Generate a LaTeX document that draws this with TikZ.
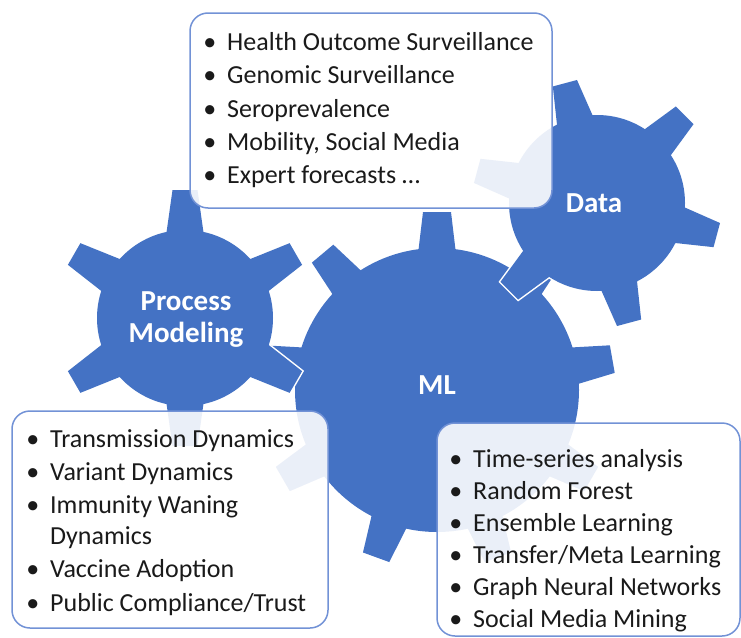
\documentclass[tikz,border=0pt]{standalone}
\usepackage{fontspec}
\setmainfont{Carlito}
\definecolor{gearblue}{RGB}{68,114,196}
\definecolor{boxline}{RGB}{114,146,214}
\definecolor{txtcol}{RGB}{26,26,26}
\newcommand\geardraw[9]{%
  \begin{scope}[shift={(#2,#3)}]
    \path[#1] (0,0) circle[radius=#4];
    \foreach \k in {1,...,#6} {
      \pgfmathsetmacro\ang{#7+(\k-1)*360/#6}
      \path[#1, rotate=\ang] (#4-6,-#9) -- (#5,-#8) -- (#5,#8) -- (#4-6,#9) -- cycle;
    }
  \end{scope}}
\newcommand\bl{\llap{\textbullet\hspace{11pt}}}
\tikzset{
  infobox/.style={draw=boxline, line width=1.5pt, fill=white, fill opacity=0.89, draw opacity=1, rounded corners=18pt, inner sep=0pt},
  txt/.style={anchor=base west, inner sep=0pt, font=\fontsize{26}{30}\selectfont, text=txtcol},
  geartxt/.style={anchor=base, inner sep=0pt, font=\fontsize{29}{32}\selectfont\bfseries, text=white},
  outline/.style={draw=white, line width=3pt, fill=gearblue},
  plain/.style={fill=gearblue}
}
\begin{document}
\begin{tikzpicture}[x=1pt,y=-1pt]
\useasboundingbox (0,0) rectangle (741,637);
% ML gear (bottom layer)
\geardraw{plain}{437}{390}{142}{178}{9}{10}{14}{19}
% Process Modeling gear
\geardraw{outline}{185}{318}{88}{128}{6}{30}{12.5}{19}
\geardraw{plain}{185}{318}{88}{128}{6}{30}{12.5}{19}
% Data gear
\geardraw{outline}{597}{203}{88}{124}{6}{-15}{12.5}{19}
\geardraw{plain}{597}{203}{88}{124}{6}{-15}{12.5}{19}
% gear labels
\node[geartxt] (proc1) at (186,310) {Process};
\node[geartxt] (proc2) at (186,342) {Modeling};
\node[geartxt] (ml) at (437,394) {ML};
\node[geartxt] (data) at (594,212) {Data};
% boxes
\node[infobox, minimum width=362pt, minimum height=195pt] (b1) at (371,110.5) {};
\node[infobox, minimum width=316pt, minimum height=217pt] (b2) at (170,519.5) {};
\node[infobox, minimum width=303pt, minimum height=213pt] (b3) at (588.5,529.5) {};
% box 1 text
\node[txt] (d1) at (227,50) {\bl Health Outcome Surveillance};
\node[txt] (d2) at (227,83) {\bl Genomic Surveillance};
\node[txt] (d3) at (227,117) {\bl Seroprevalence};
\node[txt] (d4) at (227,150) {\bl Mobility, Social Media};
\node[txt] (d5) at (227,183) {\bl Expert forecasts \dots};
% box 2 text
\node[txt] (p1) at (50,447) {\bl Transmission Dynamics};
\node[txt] (p2) at (50,480) {\bl Variant Dynamics};
\node[txt] (p3) at (50,513) {\bl Immunity Waning};
\node[txt] (p3b) at (50,544) {Dynamics};
\node[txt] (p4) at (50,577) {\bl Vaccine Adoption};
\node[txt] (p5) at (50,611) {\bl Public Compliance/Trust};
% box 3 text
\node[txt] (m1) at (473,467) {\bl Time-series analysis};
\node[txt] (m2) at (473,499) {\bl Random Forest};
\node[txt] (m3) at (473,531) {\bl Ensemble Learning};
\node[txt] (m4) at (473,563) {\bl Transfer/Meta Learning};
\node[txt] (m5) at (473,595) {\bl Graph Neural Networks};
\node[txt] (m6) at (473,627) {\bl Social Media Mining};
\end{tikzpicture}
\end{document}
